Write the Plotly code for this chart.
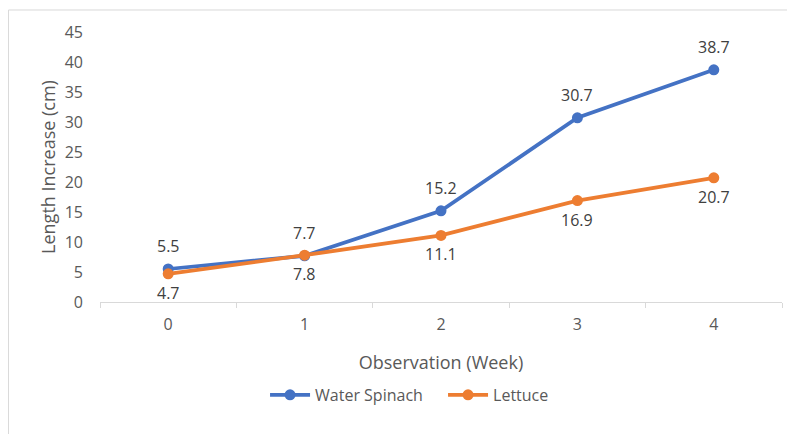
import plotly.graph_objects as go

weeks = ["0", "1", "2", "3", "4"]
water_spinach = [5.5, 7.7, 15.2, 30.7, 38.7]
lettuce = [4.7, 7.8, 11.1, 16.9, 20.7]
y_ticks = [0, 5, 10, 15, 20, 25, 30, 35, 40, 45]

BLUE = "#4472C4"
ORANGE = "#ED7D31"
GRAY = "#595959"
FONT = "Open Sans, sans-serif"

fig = go.Figure()
fig.add_trace(go.Scatter(x=weeks, y=water_spinach, name="Water Spinach", mode="lines+markers",
                         line=dict(color=BLUE, width=3.75), marker=dict(size=11, color=BLUE)))
fig.add_trace(go.Scatter(x=weeks, y=lettuce, name="Lettuce", mode="lines+markers",
                         line=dict(color=ORANGE, width=3.75), marker=dict(size=11, color=ORANGE)))

for w, v in zip(weeks, water_spinach):
    fig.add_annotation(x=w, y=v, text=f"{v}", showarrow=False, yshift=23,
                       font=dict(size=16, color="#404040", family=FONT))
for w, v in zip(weeks, lettuce):
    fig.add_annotation(x=w, y=v, text=f"{v}", showarrow=False, yshift=-19,
                       font=dict(size=16, color="#404040", family=FONT))

# chart border (top and left visible)
fig.add_shape(type="line", xref="paper", yref="paper", x0=-0.1342, x1=1.05, y0=1.0815, y1=1.0815,
              line=dict(color="#D9D9D9", width=1))
fig.add_shape(type="line", xref="paper", yref="paper", x0=-0.1342, x1=-0.1342, y0=1.0815, y1=-0.6,
              line=dict(color="#D9D9D9", width=1))

fig.update_layout(
    width=795, height=434,
    margin=dict(l=92, r=21, t=24, b=140, autoexpand=False),
    paper_bgcolor="white", plot_bgcolor="white",
    font=dict(family=FONT, size=16, color=GRAY),
    showlegend=True,
    legend=dict(orientation="h", x=0.242, y=-0.344, xanchor="left", yanchor="middle",
                font=dict(size=16, color=GRAY), itemwidth=40, tracegroupgap=0,
                entrywidth=123, entrywidthmode="pixels"),
    xaxis=dict(type="category", range=[-0.5, 4.5], tickson="boundaries", ticks="outside",
               ticklen=5, tickcolor="#D9D9D9", showline=True, linecolor="#D9D9D9", linewidth=1,
               showgrid=False, zeroline=False, ticklabelstandoff=8, automargin=False,
               title=dict(text="Observation (Week)", standoff=22, font=dict(size=18, color=GRAY))),
    yaxis=dict(range=[0, 45], tickvals=y_ticks, showgrid=False, zeroline=False, showline=False,
               ticks="", ticklabelstandoff=16, automargin=False,
               title=dict(text="Length Increase (cm)", standoff=4, font=dict(size=18, color=GRAY))),
)

fig.write_html("out.html")
